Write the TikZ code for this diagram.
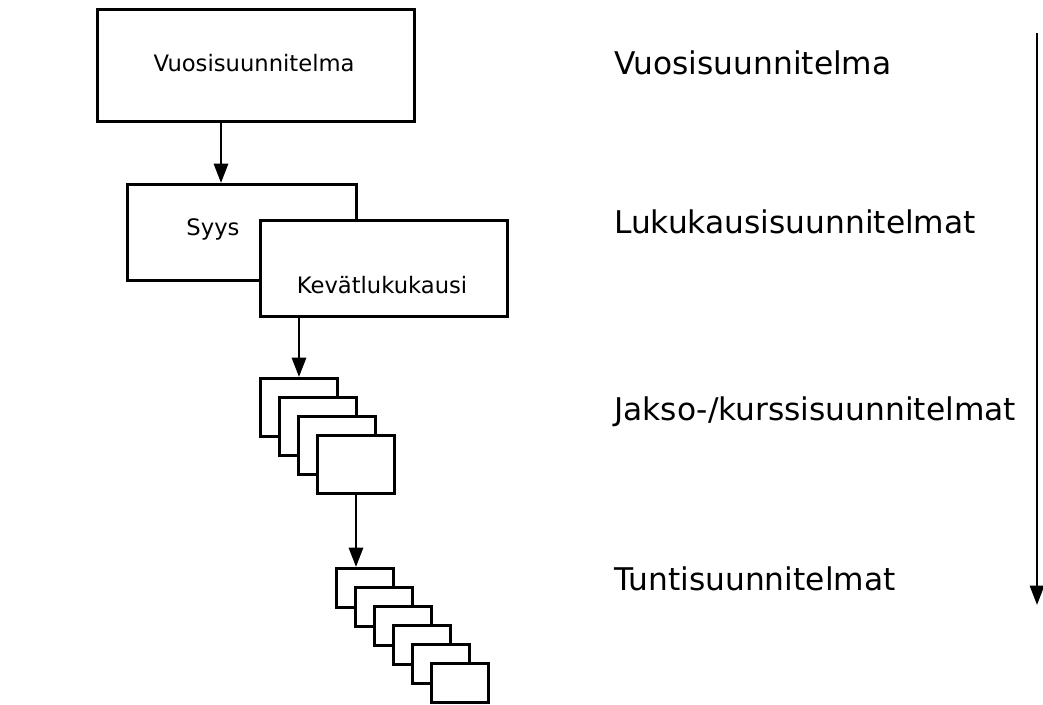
\documentclass[tikz,border=0pt]{standalone}
\usepackage{fontspec}
\setmainfont{DejaVu Sans}
\usetikzlibrary{arrows.meta,positioning,calc}

\tikzset{
  box/.style={draw, line width=1.7pt, fill=white, rectangle, anchor=north west, inner sep=0pt},
  arr/.style={line width=1.6pt, -{Triangle[length=11pt,width=8pt]}},
  lbl/.style={anchor=base west, font=\fontsize{17.8}{20}\selectfont},
  boxtxt/.style={anchor=base, font=\fontsize{12.9}{15}\selectfont}
}

\begin{document}
\begin{tikzpicture}[x=0.02cm,y=-0.02cm]
    \useasboundingbox (0,0) rectangle (1043,704);
    % left side: the plans
    \node[box, minimum width=6.34cm, minimum height=2.24cm] (vuosi) at (96,8) {};
    \node[boxtxt] (vuositxt) at (254,71) {Vuosisuunnitelma};
    \node[box, minimum width=4.58cm, minimum height=1.92cm] (syys) at (126,183) {};
    \node[boxtxt] (syystxt) at (213,235) {Syys};
    \node[box, minimum width=4.94cm, minimum height=1.92cm] (kevat) at (259,219) {};
    \node[boxtxt] (kevattxt) at (382,293) {Kevätlukukausi};
    \foreach \i in {0,...,3}
      \node[box, minimum width=1.54cm, minimum height=1.16cm] (j\i) at (259+19*\i,377+19*\i) {};
    \foreach \i in {0,...,5}
      \node[box, minimum width=1.14cm, minimum height=0.78cm] (t\i) at (335+19*\i,567+19*\i) {};
    \draw[arr] (vuosi.south -| 221,0) -- (syys.north -| 221,0);
    \draw[arr] (kevat.south -| j0.north) -- (j0.north);
    \draw[arr] (j3.south) -- (t0.north -| j3.south);
    % right side: the levels
    \node[lbl] (l1) at (608,74) {Vuosisuunnitelma};
    \node[lbl] (l2) at (608,233) {Lukukausisuunnitelmat};
    \node[lbl] (l3) at (608,420) {Jakso-/kurssisuunnitelmat};
    \node[lbl] (l4) at (608,590) {Tuntisuunnitelmat};
    \coordinate (aika1) at (1037,33);
    \coordinate (aika2) at (1037,605);
    \draw[arr, line width=1.4pt] (aika1) -- (aika2);
\end{tikzpicture}
\end{document}
